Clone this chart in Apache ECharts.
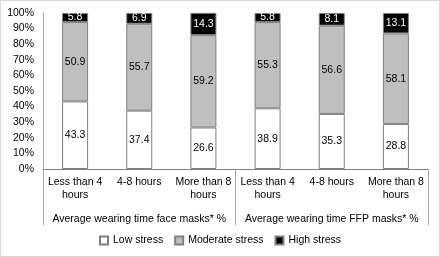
<!DOCTYPE html>
<html>
<head>
<meta charset="utf-8">
<script src="https://cdn.jsdelivr.net/npm/echarts@6/dist/echarts.min.js"></script>
<style>
  html, body { margin: 0; padding: 0; background: #fff; }
  #chart { width: 438px; height: 255px; border: 1px solid #d9d9d9; }
</style>
</head>
<body>
<div id="chart"></div>
<script>
const categories = ['Less than 4\nhours', '4-8 hours', 'More than 8\nhours', 'Less than 4\nhours', '4-8 hours', 'More than 8\nhours'];
const groups = ['Average wearing time face masks* %', 'Average wearing time FFP masks* %'];
const lowStress = [43.3, 37.4, 26.6, 38.9, 35.3, 28.8];
const moderateStress = [50.9, 55.7, 59.2, 55.3, 56.6, 58.1];
const highStress = [5.8, 6.9, 14.3, 5.8, 8.1, 13.1];

const font = 'Liberation Sans';
const fs = 10.5;
const chart = echarts.init(document.getElementById('chart'));

// each label line on its own axis so every line stays centred
const firstLine = categories.map((c) => c.split('\n')[0]);
const secondLine = categories.map((c) => c.split('\n')[1] || '');

function barSeries(name, data, fill, border, labelColor) {
  return {
    name: name,
    type: 'bar',
    stack: 'total',
    data: data,
    barWidth: 26,
    itemStyle: { color: fill, borderColor: border, borderWidth: 1 },
    label: {
      show: true,
      position: 'inside',
      color: labelColor,
      fontFamily: font,
      fontSize: fs,
      formatter: (p) => p.value.toFixed(1),
    },
  };
}

chart.setOption({
  animation: false,
  textStyle: { fontFamily: font },
  grid: { left: 42, right: 11, top: 12, bottom: 87 },
  legend: {
    bottom: 5,
    left: 'center',
    icon: 'rect',
    itemWidth: 8,
    itemHeight: 8,
    itemGap: 11,
    textStyle: { fontFamily: font, fontSize: fs, color: '#000' },
    data: ['Low stress', 'Moderate stress', 'High stress'],
  },
  xAxis: [
    {
      type: 'category',
      data: firstLine,
      axisLine: { lineStyle: { color: '#808080' } },
      axisTick: { show: false },
      axisLabel: { color: '#000', fontSize: fs, margin: 8, interval: 0 },
    },
    {
      type: 'category',
      data: secondLine,
      position: 'bottom',
      axisLine: { show: false },
      axisTick: { show: false },
      axisLabel: { color: '#000', fontSize: fs, margin: 21, interval: 0 },
    },
    {
      type: 'category',
      data: groups,
      position: 'bottom',
      axisLine: { show: false },
      axisTick: { show: true, length: 56, lineStyle: { color: '#a6a6a6' } },
      axisLabel: { color: '#000', fontSize: fs, margin: 45, interval: 0 },
    },
  ],
  yAxis: {
    type: 'value',
    min: 0,
    max: 100,
    interval: 10,
    axisLine: { show: true, lineStyle: { color: '#a6a6a6' } },
    axisTick: { show: false },
    splitLine: { show: false },
    axisLabel: { color: '#000', fontSize: fs, margin: 9, formatter: '{value}%' },
  },
  series: [
    barSeries('Low stress', lowStress, '#ffffff', '#7f7f7f', '#000'),
    barSeries('Moderate stress', moderateStress, '#bfbfbf', '#7f7f7f', '#000'),
    barSeries('High stress', highStress, '#000000', '#7f7f7f', '#fff'),
  ],
});
</script>
</body>
</html>
